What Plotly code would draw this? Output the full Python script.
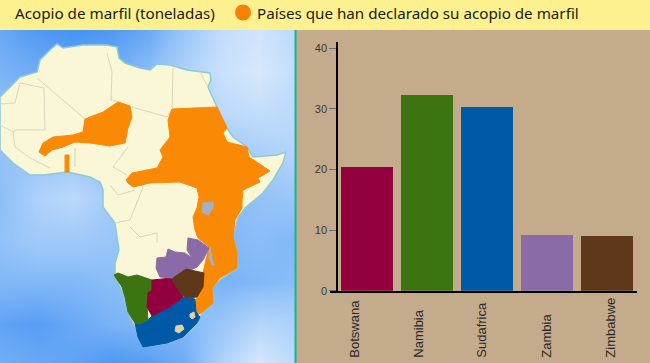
import plotly.graph_objects as go

W, H = 650, 363

# ---- chart data ----
countries = ["Botswana", "Namibia", "Sudafrica", "Zambia", "Zimbabwe"]
stock_tonnes = [20.4, 32.3, 30.3, 9.2, 9.1]
bar_colors = ["#92003F", "#3D7412", "#0059A6", "#8A6BA8", "#5F381B"]
label_shift = [-13, -9, -6, -1, 3]
y_ticks = [0, 10, 20, 30, 40]

title_left = "Acopio de marfil (toneladas)"
title_right = "Países que han declarado su acopio de marfil"

# ---- sky brightness (0 deep blue, 1 pale) ----
sky_x = [0, 37, 74, 111, 148, 185, 222, 259, 295]
sky_y = [30, 72, 114, 156, 198, 240, 282, 324, 363]
sky = [
    [0.25, 0.10, 0.05, 0.10, 0.25, 0.55, 0.85, 0.95, 0.80],
    [0.35, 0.30, 0.25, 0.30, 0.45, 0.70, 0.90, 1.00, 0.85],
    [0.55, 0.50, 0.45, 0.45, 0.55, 0.65, 0.80, 0.85, 0.80],
    [0.50, 0.55, 0.55, 0.50, 0.50, 0.50, 0.55, 0.65, 0.75],
    [0.45, 0.70, 0.80, 0.60, 0.50, 0.50, 0.40, 0.50, 0.55],
    [0.50, 0.60, 0.60, 0.55, 0.50, 0.50, 0.40, 0.45, 0.40],
    [0.40, 0.40, 0.40, 0.45, 0.50, 0.50, 0.35, 0.40, 0.45],
    [0.20, 0.15, 0.25, 0.35, 0.40, 0.40, 0.55, 0.75, 0.70],
    [0.30, 0.25, 0.20, 0.10, 0.15, 0.30, 0.70, 1.00, 0.80],
]

# ---- map regions, in map units ----
africa = [(0,97),(20,77),(37,72),(40,60),(50,50),(57,44),(63,48),(83,45),(107,45),(117,47),(119,58),(125,63),
          (140,68),(150,70),(157,64),(170,65),(187,70),(210,73),(211,80),(208,87),(217,107),(227,128),(233,137),
          (247,147),(253,157),(277,155),(286,152),(283,163),(273,180),(263,193),(245,208),(238,218),(233,237),
          (237,250),(238,268),(220,280),(212,288),(213,303),(202,313),(198,323),(183,337),(167,343),(143,347),
          (135,327),(127,310),(123,293),(115,277),(115,263),(119,250),(115,223),(103,207),(103,190),(100,182),
          (90,177),(67,172),(43,175),(30,175),(13,163),(0,150)]
sahel = [(118,102),(130,106),(132,117),(128,128),(125,143),(110,146),(90,143),(75,142),(63,147),(52,150),(45,156),
         (39,152),(43,143),(53,137),(73,135),(83,132),(85,119),(103,112)]
togo = [(65,155),(69,155),(69,172),(65,172)]
east = [(172,109),(217,107),(227,128),(223,133),(227,142),(247,147),(249,157),(270,171),(258,178),(260,182),
        (243,190),(242,200),(242,208),(235,220),(233,237),(237,252),(237,268),(220,278),(212,288),(213,303),
        (201,313),(196,315),(195,305),(197,298),(203,273),(209,247),(198,238),(195,230),(193,217),(197,208),
        (199,197),(197,188),(180,182),(150,183),(133,187),(128,183),(126,180),(132,173),(157,168),(163,157),
        (160,150),(170,137),(168,120)]
zambia = [(188,238),(198,240),(209,248),(205,255),(203,260),(197,267),(193,269),(185,271),(173,278),(160,277),
          (156,268),(157,258),(166,257),(168,249),(175,252),(185,253),(192,258),(187,250)]
zimbabwe = [(186,269),(204,273),(203,287),(197,297),(187,298),(182,295),(173,282),(173,278)]
botswana = [(152,280),(172,278),(183,297),(170,307),(160,312),(152,316),(147,307),(148,293),(152,290)]
namibia = [(114,275),(118,273),(128,277),(137,275),(152,280),(152,290),(148,293),(147,307),(148,320),(140,324),
           (135,323),(128,312),(125,297),(122,287)]
south_africa = [(135,323),(140,324),(148,320),(152,316),(160,312),(170,307),(183,297),(195,299),(196,312),
                (200,317),(197,323),(183,337),(167,343),(143,347),(138,337)]
lesotho = [(176,326),(182,325),(184,329),(179,333),(175,331)]
swaziland = [(190,314),(194,312),(195,317),(192,319),(190,317)]
lake_victoria = [(203,203),(213,202),(213,208),(208,215),(202,212)]
lake_malawi = [(210,247),(213,263),(215,265),(212,265),(209,257)]

borders = [
    [(0,104),(15,103),(20,83),(44,88),(45,130),(15,130),(13,133)],
    [(37,78),(83,118),(85,119)],
    [(107,53),(112,72),(111,100),(120,102)],
    [(132,107),(167,117),(172,109)],
    [(173,68),(172,108)],
    [(200,72),(208,87)],
    [(0,125),(13,132),(15,147),(30,158),(50,168)],
    [(75,148),(75,167)],
    [(128,147),(113,167),(127,175)],
    [(115,223),(130,220),(143,187)],
    [(130,227),(140,237),(157,233),(157,243)],
    [(110,185),(118,195),(135,190)],
]

COAST = "#8CCAD4"
LAND = "#F9F7D6"
ORANGE = "#FA8A05"
YELLOW = "#FDF18F"
TAN = "#C3AB8C"
TEAL = "#12B79B"
LAKE = "#A7AFC2"


def polygon(points, fill, line=None, width=1.0):
    return go.Scatter(
        x=[p[0] for p in points] + [points[0][0]],
        y=[p[1] for p in points] + [points[0][1]],
        mode="lines", fill="toself", fillcolor=fill,
        line=dict(color=line or fill, width=width),
        xaxis="x2", yaxis="y2", hoverinfo="skip", showlegend=False,
    )


def px(x):
    return x / W


def py(y):
    return 1 - y / H


fig = go.Figure()

fig.add_trace(go.Heatmap(
    x=sky_x, y=sky_y, z=sky, zmin=0, zmax=1, zsmooth="best", showscale=False,
    colorscale=[[0, "#3E8EF2"], [0.5, "#93C2F8"], [1, "#D6E8FC"]],
    xaxis="x2", yaxis="y2", hoverinfo="skip",
))
fig.add_trace(polygon(africa, LAND, COAST, 1.5))
for seg in borders:
    fig.add_trace(go.Scatter(
        x=[p[0] for p in seg], y=[p[1] for p in seg], mode="lines",
        line=dict(color="#DAD6BD", width=1), xaxis="x2", yaxis="y2",
        hoverinfo="skip", showlegend=False,
    ))
for shape_pts in (sahel, togo, east):
    fig.add_trace(polygon(shape_pts, ORANGE))
fig.add_trace(polygon(lake_victoria, LAKE))
fig.add_trace(polygon(lake_malawi, LAKE))
fig.add_trace(polygon(south_africa, bar_colors[2]))
fig.add_trace(polygon(namibia, bar_colors[1]))
fig.add_trace(polygon(botswana, bar_colors[0]))
fig.add_trace(polygon(zambia, bar_colors[3]))
fig.add_trace(polygon(zimbabwe, bar_colors[4]))
fig.add_trace(polygon(lesotho, "#E6CFA6"))
fig.add_trace(polygon(swaziland, "#E6CFA6"))

fig.add_trace(go.Bar(
    x=countries, y=stock_tonnes, marker=dict(color=bar_colors, line=dict(width=0)),
    width=0.867, xaxis="x", yaxis="y", showlegend=False,
))

axis_font = dict(family="Liberation Sans Narrow, Liberation Sans", size=11, color="#3A3A3A")

annotations = [
    dict(x=c, y=py(360), xref="x", yref="paper", text=c, textangle=-90, showarrow=False,
         xanchor="center", yanchor="bottom", xshift=s,
         font=dict(family="Liberation Sans", size=13, color="#2A2A2A"), align="left")
    for c, s in zip(countries, label_shift)
]
annotations += [
    dict(x=px(13), y=py(13), xref="paper", yref="paper", text=title_left, showarrow=False,
         xanchor="left", yanchor="middle", font=dict(family="Noto Sans", size=15.2, color="#1A1A1A")),
    dict(x=px(255), y=py(13), xref="paper", yref="paper", text=title_right, showarrow=False,
         xanchor="left", yanchor="middle", font=dict(family="Noto Sans", size=15.2, color="#1A1A1A")),
]

shapes = [
    dict(type="rect", xref="paper", yref="paper", x0=0, x1=1, y0=py(30), y1=1, layer="below",
         fillcolor=YELLOW, line=dict(width=0)),
    dict(type="line", xref="paper", yref="paper", x0=px(295.5), x1=px(295.5), y0=0, y1=py(30),
         line=dict(color=TEAL, width=2)),
    dict(type="circle", xref="paper", yref="paper", x0=px(235), x1=px(251), y0=py(20.5), y1=py(4.5),
         fillcolor="#F58206", line=dict(width=0)),
]

fig.update_layout(
    template="none",
    width=W, height=H, margin=dict(l=0, r=0, t=0, b=0, pad=0), autosize=False,
    paper_bgcolor=TAN, plot_bgcolor="rgba(0,0,0,0)", bargap=0, showlegend=False,
    xaxis=dict(domain=[px(330), px(636.7)], range=[-0.612, 4.5], showticklabels=False, ticks="",
               showgrid=False, zeroline=False, showline=True, linecolor="#000000", linewidth=2,
               anchor="y", type="category", categoryorder="array", categoryarray=countries,
               fixedrange=True, automargin=False),
    yaxis=dict(domain=[py(290.7), py(41.7)], range=[0, 41.09], tickvals=y_ticks, ticks="outside",
               ticklen=7, tickwidth=1, tickcolor="#6E6A85", tickfont=axis_font, showgrid=False,
               zeroline=False, showline=True, linecolor="#000000", linewidth=2,
               anchor="free", position=px(337.3), fixedrange=True, automargin=False),
    xaxis2=dict(domain=[0, px(295)], range=[0, 295], visible=False, fixedrange=True, automargin=False),
    yaxis2=dict(domain=[0, py(30)], range=[363, 30], visible=False, fixedrange=True, anchor="x2", automargin=False),
    annotations=annotations, shapes=shapes,
)

fig.write_html("out.html", config=dict(displayModeBar=False),
               post_script="document.body.style.margin='0';document.body.style.overflow='hidden';")
